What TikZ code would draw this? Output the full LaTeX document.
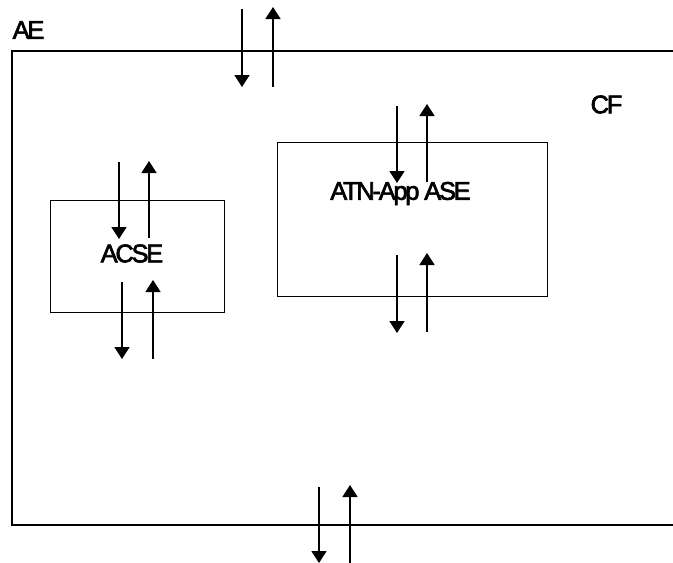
\documentclass[tikz,border=0pt]{standalone}
\usepackage{fontspec}
\setmainfont{Liberation Sans}[LetterSpace=-9,FakeBold=2.5]
\usetikzlibrary{arrows.meta}
\begin{document}
\begin{tikzpicture}[x=1pt,y=-1pt,
  frame/.style={line width=1.5pt},
  box/.style={draw,line width=1.3pt,inner sep=0pt,anchor=north west},
  lbl/.style={font=\fontsize{25.5}{28}\selectfont,inner sep=0pt},
  flow/.style={line width=1.7pt,-{Triangle[width=15pt,length=12pt]}}]
\useasboundingbox (0,0) rectangle (673,563);
% outer frame (open on the right)
\draw[frame] (673,51) -- (12,51) -- (12,525) -- (673,525);
% labels
\node[lbl] (ae) at (28.5,30) {AE};
\node[lbl] (cf) at (606.5,104.5) {CF};
% boxes
\node[box,minimum width=174pt,minimum height=112pt] (acse) at (50,200) {};
\node[box,minimum width=270pt,minimum height=154pt] (atn) at (277,142) {};
\node[lbl] (acset) at (132,253.5) {ACSE};
\node[lbl] (atnt) at (400.5,193.5) {ATN-App ASE};
% arrow end points
\coordinate (t1a) at (242,9);   \coordinate (t1b) at (242,87);
\coordinate (t2a) at (273,87);  \coordinate (t2b) at (273,7);
\coordinate (a1a) at (119,162); \coordinate (a1b) at (119,239);
\coordinate (a2a) at (149,238); \coordinate (a2b) at (149,161);
\coordinate (a3a) at (122,282); \coordinate (a3b) at (122,359);
\coordinate (a4a) at (153,359); \coordinate (a4b) at (153,280);
\coordinate (n1a) at (397,106); \coordinate (n1b) at (397,183);
\coordinate (n2a) at (427,182); \coordinate (n2b) at (427,104);
\coordinate (n3a) at (397,255); \coordinate (n3b) at (397,333);
\coordinate (n4a) at (427,332); \coordinate (n4b) at (427,253);
\coordinate (b1a) at (319,487); \coordinate (b1b) at (319,563);
\coordinate (b2a) at (350,563); \coordinate (b2b) at (350,485);
% arrows
\draw[flow] (t1a) -- (t1b);
\draw[flow] (t2a) -- (t2b);
\draw[flow] (a1a) -- (a1b);
\draw[flow] (a2a) -- (a2b);
\draw[flow] (a3a) -- (a3b);
\draw[flow] (a4a) -- (a4b);
\draw[flow] (n1a) -- (n1b);
\draw[flow] (n2a) -- (n2b);
\draw[flow] (n3a) -- (n3b);
\draw[flow] (n4a) -- (n4b);
\draw[flow] (b1a) -- (b1b);
\draw[flow] (b2a) -- (b2b);
\end{tikzpicture}
\end{document}
